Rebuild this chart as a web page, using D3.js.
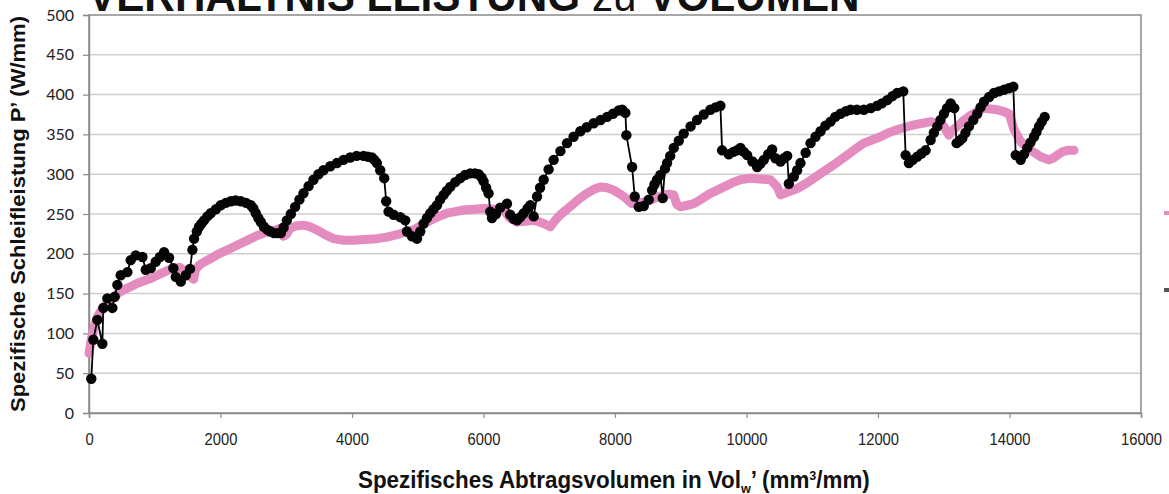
<!DOCTYPE html>
<html>
<head>
<meta charset="utf-8">
<script src="https://cdn.jsdelivr.net/npm/d3@7"></script>
<style>
  body { margin: 0; background: #fff; }
  svg { display: block; }
</style>
</head>
<body>
<svg id="chart" width="1169" height="494"></svg>
<script>
// x ticks / y ticks
const xTicks = [0, 2000, 4000, 6000, 8000, 10000, 12000, 14000, 16000]
const yTicks = [0, 50, 100, 150, 200, 250, 300, 350, 400, 450, 500]

// pink series (dense markers)
const pinkVol = [0, 40, 80, 127, 180, 228, 300, 380, 450, 533, 640, 736, 840, 939, 1040, 1142, 1220, 1294, 1380, 1460, 1530, 1590,
  1620, 1680, 1760, 1852, 1950, 2055, 2160, 2258, 2360, 2461, 2560, 2664, 2760, 2841, 2900, 2957, 3000, 3059, 3150, 3262, 3360,
  3465, 3590, 3719, 3870, 4023, 4200, 4378, 4530, 4683, 4800, 4936, 5060, 5190, 5320, 5444, 5570, 5697, 5850, 6001, 6150, 6306,
  6400, 6510, 6640, 6763, 6850, 6915, 7016, 7090, 7168, 7270, 7371, 7470, 7574, 7680, 7777, 7880, 7980, 8060, 8132, 8200, 8260,
  8370, 8488, 8620, 8741, 8820, 8893, 8940, 8995, 9100, 9198, 9320, 9451, 9580, 9705, 9800, 9908, 10060, 10200, 10365, 10467,
  10517, 10640, 10771, 10900, 11024, 11150, 11278, 11400, 11532, 11660, 11785, 11910, 12039, 12160, 12292, 12420, 12546, 12680,
  12800, 12900, 13003, 13079, 13150, 13257, 13308, 13409, 13510, 13612, 13715, 13815, 13900, 13993, 14069, 14170, 14250, 14322,
  14400, 14474, 14601, 14660, 14728, 14800, 14880, 14982]
const pinkP = [75, 95, 108, 121, 128, 134, 140, 146, 151, 155, 159, 163, 166, 169, 173, 177, 180, 182, 183, 178, 172, 168,
  180, 186, 190, 194, 199, 203, 207, 211, 215, 219, 223, 226, 229, 230, 232, 222, 224, 232, 235, 236, 234,
  230, 224, 219, 217, 217, 218, 219, 221, 224, 227, 230, 236, 242, 247, 251, 253, 255, 256, 257, 256, 255,
  245, 240, 241, 242, 240, 238, 234, 242, 249, 256, 263, 270, 276, 281, 284, 283, 280, 276, 272, 267, 263,
  264, 266, 270, 274, 275, 274, 262, 259, 261, 263, 269, 276, 281, 286, 290, 293, 295, 294, 293, 284,
  274, 278, 282, 288, 295, 302, 309, 316, 324, 332, 339, 343, 347, 352, 356, 359, 362, 364,
  366, 364, 360, 349, 356, 364, 368, 374, 379, 383, 382, 381, 379, 376, 356, 341, 335, 330,
  326, 322, 318, 320, 324, 328, 330, 330]

// black series (markers + line)
const blackVol = [35, 66, 127, 203, 218, 279, 355, 391, 431, 482, 584, 634, 711, 812, 863, 939, 1015, 1080, 1142, 1218, 1283,
  1320, 1396, 1472, 1537, 1573, 1598, 1640, 1674, 1710, 1750, 1800, 1852, 1930, 2004, 2080, 2157, 2230, 2309, 2390, 2461, 2500,
  2537, 2575, 2613, 2660, 2714, 2760, 2816, 2870, 2918, 2960, 3009, 3070, 3135, 3200, 3262, 3340, 3414, 3490, 3566, 3670, 3770,
  3870, 3972, 4070, 4175, 4240, 4302, 4340, 4378, 4429, 4490, 4520, 4556, 4632, 4734, 4810, 4836, 4912, 4988, 5038, 5089, 5140,
  5190, 5240, 5292, 5340, 5393, 5440, 5494, 5570, 5647, 5720, 5799, 5870, 5926, 5970, 6001, 6040, 6077, 6103, 6129, 6190, 6255,
  6357, 6407, 6460, 6510, 6560, 6611, 6670, 6712, 6763, 6814, 6860, 6915, 6990, 7067, 7170, 7270, 7370, 7473, 7570, 7676, 7780,
  7879, 7970, 8056, 8110, 8158, 8173, 8260, 8300, 8361, 8437, 8513, 8564, 8600, 8640, 8690, 8725, 8760, 8792, 8840, 8893, 8970,
  9045, 9150, 9248, 9350, 9451, 9530, 9603, 9629, 9730, 9800, 9857, 9908, 9960, 10010, 10090, 10162, 10210, 10263, 10330, 10390,
  10441, 10517, 10570, 10619, 10644, 10720, 10770, 10821, 10900, 10974, 11050, 11126, 11200, 11278, 11350, 11430, 11510, 11582,
  11680, 11785, 11890, 11988, 12060, 12140, 12220, 12292, 12384, 12420, 12470, 12530, 12597, 12660, 12724, 12800, 12850, 12902,
  12950, 13003, 13050, 13105, 13160, 13196, 13240, 13282, 13330, 13383, 13450, 13510, 13560, 13612, 13690, 13764, 13840, 13916,
  13990, 14058, 14094, 14170, 14220, 14271, 14320, 14373, 14410, 14449, 14490, 14535]
const blackP = [43, 92, 117, 87, 132, 144, 132, 146, 161, 173, 177, 192, 198, 196, 180, 182, 190, 196, 202, 195, 182,
  171, 165, 173, 181, 205, 219, 228, 234, 238, 242, 247, 251, 256, 261, 264, 266, 267, 266, 264, 261, 257,
  251, 245, 240, 234, 230, 228, 226, 226, 226, 233, 242, 250, 259, 268, 276, 285, 293, 300, 305, 310, 314,
  318, 321, 323, 323, 322, 321, 318, 314, 305, 295, 266, 253, 249, 246, 242, 228, 222, 219, 228, 238, 245,
  251, 256, 261, 268, 274, 279, 284, 290, 295, 299, 301, 301, 300, 296, 291, 283, 276, 253, 245, 250, 258,
  263, 249, 244, 242, 246, 251, 257, 261, 247, 272, 283, 293, 306, 318, 329, 339, 347, 354, 359, 364, 368,
  372, 376, 380, 381, 377, 349, 309, 272, 259, 260, 268, 280, 287, 293, 299, 270, 307, 314, 323, 333, 342,
  351, 360, 368, 375, 381, 384, 386, 330, 325, 328, 330, 333, 328, 324, 316, 309, 313, 318, 325, 331,
  320, 316, 320, 323, 288, 297, 305, 314, 327, 339, 347, 354, 361, 366, 372, 376, 379, 381,
  381, 381, 383, 386, 389, 393, 398, 402, 404, 324, 314, 318, 322, 326, 330, 343, 352, 360,
  368, 376, 383, 389, 383, 339, 342, 345, 352, 360, 368, 376, 384, 391, 397, 402, 404, 406,
  408, 410, 324, 318, 325, 333, 340, 347, 353, 360, 366, 372]

const pinkColor = '#e48bc0'
const gridColor = '#cfcfcf'
const frameColor = '#8a8a8a'
const narrowFont = '"Liberation Sans Narrow", "Arial Narrow", "Liberation Sans", sans-serif'

const svg = d3.select('#chart')
const width = 1169
const height = 494
const margin = { left: 89, right: 28, top: 15, bottom: 81 }
const plotW = width - margin.left - margin.right
const plotH = height - margin.top - margin.bottom

svg.append('rect').attr('width', width).attr('height', height).attr('fill', '#fff')

const x = d3.scaleLinear().domain([0, 16000]).range([margin.left, margin.left + plotW])
const y = d3.scaleLinear().domain([0, 500]).range([margin.top + plotH, margin.top])

// Squeeze a text group horizontally so it spans the wanted width
function fitWidth (textSel, left, baseline, wanted) {
  let w = textSel.node().getComputedTextLength()
  textSel.attr('transform', `translate(${left},${baseline}) scale(${wanted / w},1)`)
}

// Gridlines
svg.append('g')
  .selectAll('line')
  .data(yTicks.filter(d => d > 0 && d < 500))
  .join('line')
  .attr('x1', margin.left)
  .attr('x2', margin.left + plotW)
  .attr('y1', d => y(d))
  .attr('y2', d => y(d))
  .attr('stroke', gridColor)
  .attr('stroke-width', 1.5)

// Frame
svg.append('rect')
  .attr('x', margin.left)
  .attr('y', margin.top)
  .attr('width', plotW)
  .attr('height', plotH)
  .attr('fill', 'none')
  .attr('stroke', frameColor)
  .attr('stroke-width', 1.5)

// Y axis
let yAxis = svg.append('g')
  .attr('class', 'axis axis-y')
  .attr('transform', `translate(${margin.left},0)`)
  .call(d3.axisLeft(y).tickValues(yTicks).tickSize(6).tickPadding(9))
yAxis.select('.domain').attr('stroke', frameColor).attr('stroke-width', 1.5)
yAxis.selectAll('.tick line').attr('stroke', frameColor).attr('stroke-width', 1.2)
yAxis.selectAll('.tick text')
  .attr('fill', '#222')
  .style('font-family', 'Lato, "Open Sans", sans-serif')
  .style('font-size', '16px')

// X axis (condensed labels, no thousands separator)
let xAxis = svg.append('g')
  .attr('class', 'axis axis-x')
  .attr('transform', `translate(0,${margin.top + plotH})`)
  .call(d3.axisBottom(x).tickValues(xTicks).tickFormat(d3.format('d')).tickSize(5).tickPadding(15))
xAxis.select('.domain').attr('stroke', frameColor).attr('stroke-width', 1.5)
xAxis.selectAll('.tick line').attr('stroke', frameColor).attr('stroke-width', 1.2)
xAxis.selectAll('.tick text')
  .attr('fill', '#222')
  .attr('textLength', d => String(d).length * 8.2)
  .attr('lengthAdjust', 'spacingAndGlyphs')
  .style('font-family', narrowFont)
  .style('font-size', '17px')

// Pink series: dense markers forming a thick band
const pinkPts = pinkVol.map((v, i) => [v, pinkP[i]])
svg.append('path')
  .datum(pinkPts)
  .attr('fill', 'none')
  .attr('stroke', pinkColor)
  .attr('stroke-width', 9)
  .attr('stroke-linejoin', 'round')
  .attr('stroke-linecap', 'round')
  .attr('d', d3.line().x(d => x(d[0])).y(d => y(d[1])))

// Black series: line with circle markers
const blackPts = blackVol.map((v, i) => [v, blackP[i]])
svg.append('path')
  .datum(blackPts)
  .attr('fill', 'none')
  .attr('stroke', '#000')
  .attr('stroke-width', 1.8)
  .attr('d', d3.line().x(d => x(d[0])).y(d => y(d[1])))

svg.append('g')
  .selectAll('circle')
  .data(blackPts)
  .join('circle')
  .attr('cx', d => x(d[0]))
  .attr('cy', d => y(d[1]))
  .attr('r', 5.2)
  .attr('fill', '#050505')

// Title, cut off at the top edge
let title = svg.append('text')
  .style('font-family', narrowFont)
  .style('font-weight', 'bold')
  .style('font-size', '44px')
  .attr('fill', '#111')
title.append('tspan').text('VERHÄLTNIS LEISTUNG ')
title.append('tspan').text('zu').style('font-weight', 'normal')
title.append('tspan').text(' VOLUMEN')
fitWidth(title, 88, 11, 772)

// Y axis title
svg.append('text')
  .attr('transform', `translate(25,${margin.top + plotH / 2}) rotate(-90)`)
  .attr('text-anchor', 'middle')
  .attr('textLength', 396)
  .attr('lengthAdjust', 'spacingAndGlyphs')
  .style('font-family', '"Liberation Sans", Arial, sans-serif')
  .style('font-weight', 'bold')
  .style('font-size', '20px')
  .attr('fill', '#111')
  .text('Spezifische Schleifleistung P\u2019 (W/mm)')

// X axis title (multipart with sub/superscript), condensed to its width
let xTitle = svg.append('text')
  .style('font-family', narrowFont)
  .style('font-weight', 'bold')
  .style('font-size', '23px')
  .attr('fill', '#111')
xTitle.append('tspan').text('Spezifisches Abtragsvolumen in Vol')
xTitle.append('tspan').text('w').attr('dy', 5).style('font-size', '13px')
xTitle.append('tspan').text('\u2019 (mm').attr('dy', -5)
xTitle.append('tspan').text('3').attr('dy', -8).style('font-size', '13px')
xTitle.append('tspan').text('/mm)').attr('dy', 8)
fitWidth(xTitle, 358, 488, 512)

// Legend markers, cut off at the right edge
const legendColors = [pinkColor, '#555']
const legendY = [213, 290]
svg.append('g')
  .selectAll('rect')
  .data(legendColors)
  .join('rect')
  .attr('x', 1164)
  .attr('y', (d, i) => legendY[i] - 2)
  .attr('width', 8)
  .attr('height', 4)
  .attr('fill', d => d)
</script>
</body>
</html>
